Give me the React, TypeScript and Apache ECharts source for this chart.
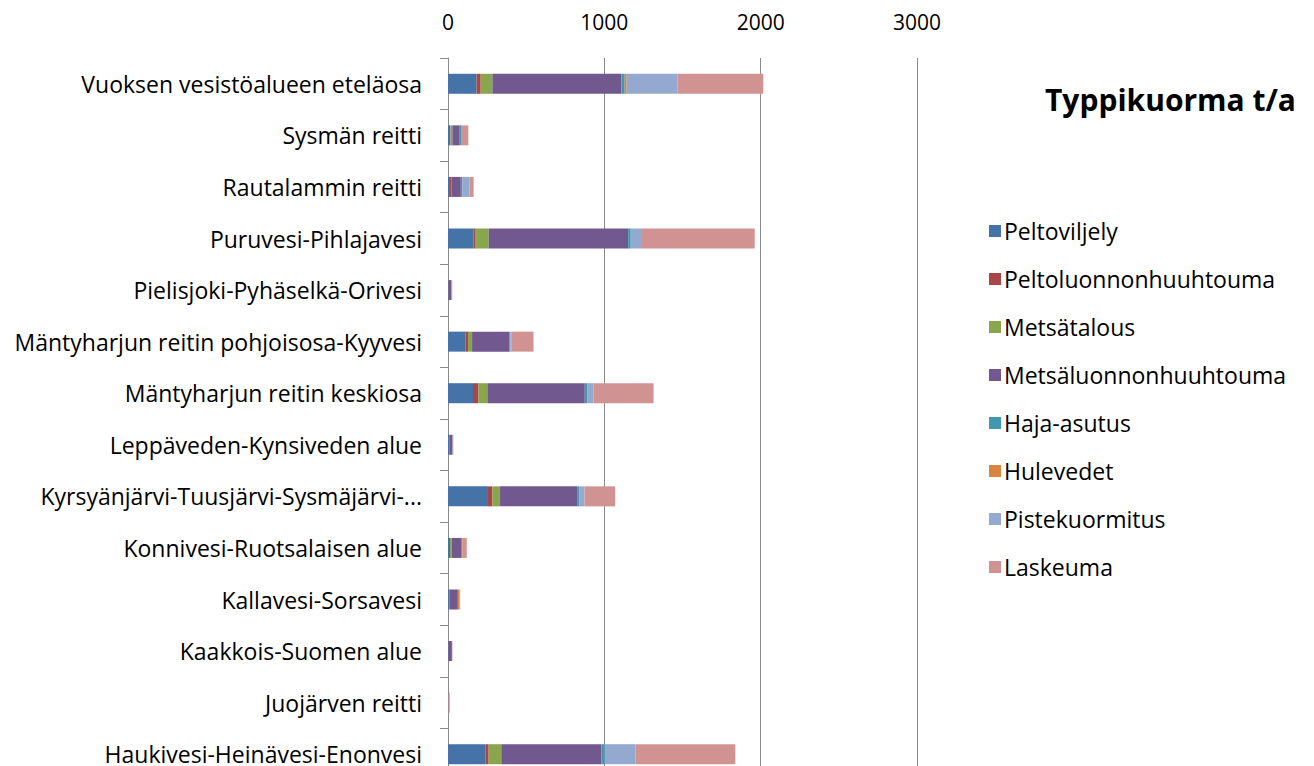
import React, { useEffect, useRef } from "react";
import * as echarts from "echarts";

// Nitrogen load by catchment area (t/a), stacked by source
const categories = [
  "Vuoksen vesistöalueen eteläosa",
  "Sysmän reitti",
  "Rautalammin reitti",
  "Puruvesi-Pihlajavesi",
  "Pielisjoki-Pyhäselkä-Orivesi",
  "Mäntyharjun reitin pohjoisosa-Kyyvesi",
  "Mäntyharjun reitin keskiosa",
  "Leppäveden-Kynsiveden alue",
  "Kyrsyänjärvi-Tuusjärvi-Sysmäjärvi-...",
  "Konnivesi-Ruotsalaisen alue",
  "Kallavesi-Sorsavesi",
  "Kaakkois-Suomen alue",
  "Juojärven reitti",
  "Haukivesi-Heinävesi-Enonvesi",
];

const seriesNames = [
  "Peltoviljely",
  "Peltoluonnonhuuhtouma",
  "Metsätalous",
  "Metsäluonnonhuuhtouma",
  "Haja-asutus",
  "Hulevedet",
  "Pistekuormitus",
  "Laskeuma",
];

const peltoviljely = [183, 15, 13, 164, 2, 111, 160, 8, 250, 13, 6, 3, 0, 241];
const peltoluonnonhuuhtouma = [26, 2, 9, 13, 0, 17, 34, 0, 34, 0, 4, 0, 0, 19];
const metsatalous = [75, 11, 0, 83, 1, 26, 58, 0, 49, 11, 0, 0, 0, 81];
const metsaluonnonhuuhtouma = [825, 47, 60, 892, 19, 239, 623, 21, 493, 64, 53, 22, 3, 640];
const hajaAsutus = [21, 8, 9, 17, 0, 6, 15, 0, 15, 0, 0, 0, 0, 21];
const hulevedet = [13, 0, 0, 0, 0, 0, 0, 0, 0, 6, 9, 0, 0, 0];
const pistekuormitus = [326, 0, 47, 72, 0, 9, 41, 2, 32, 0, 0, 0, 0, 198];
const laskeuma = [548, 47, 26, 721, 5, 139, 384, 3, 196, 26, 6, 3, 8, 638];

const seriesValues = [
  peltoviljely,
  peltoluonnonhuuhtouma,
  metsatalous,
  metsaluonnonhuuhtouma,
  hajaAsutus,
  hulevedet,
  pistekuormitus,
  laskeuma,
];

const colors = [
  "#4572A7",
  "#AA4643",
  "#89A54E",
  "#71588F",
  "#4198AF",
  "#DB843D",
  "#93A9CF",
  "#D19392",
];

const FONT = "'Open Sans', Lato, sans-serif";

export default function App() {
  const ref = useRef<HTMLDivElement>(null);

  useEffect(() => {
    if (!ref.current) return;
    const chart = echarts.init(ref.current, null, { renderer: "svg" });
    chart.setOption({
      animation: false,
      backgroundColor: "#ffffff",
      color: colors,
      title: {
        text: "Typpikuorma t/a",
        left: 1040,
        top: 79,
        textStyle: {
          fontFamily: FONT,
          fontSize: 30,
          fontWeight: "bold",
          color: "#000",
        },
      },
      legend: {
        orient: "vertical",
        left: 984,
        top: 214,
        icon: "rect",
        itemWidth: 12,
        itemHeight: 12,
        itemGap: 24,
        data: seriesNames,
        textStyle: {
          fontFamily: FONT,
          fontSize: 23,
          lineHeight: 24,
          color: "#000",
          padding: [0, 0, 0, -2],
        },
      },
      grid: {
        left: 448,
        top: 58,
        width: 469,
        height: 722,
        containLabel: false,
      },
      xAxis: {
        type: "value",
        position: "top",
        min: 0,
        max: 3000,
        interval: 1000,
        axisLine: { show: false },
        axisTick: { show: false },
        axisLabel: {
          fontFamily: FONT,
          fontSize: 21,
          color: "#000",
          margin: 26,
          formatter: (v: number) => String(v),
        },
        splitLine: { show: true, lineStyle: { color: "#8a8a8a", width: 1 } },
      },
      yAxis: {
        type: "category",
        inverse: true,
        data: categories,
        axisLine: { show: true, lineStyle: { color: "#8a8a8a", width: 1 } },
        axisTick: { show: true, length: 8, lineStyle: { color: "#8a8a8a" } },
        axisLabel: {
          fontFamily: FONT,
          fontSize: 23,
          color: "#000",
          margin: 26,
        },
      },
      series: seriesNames.map((name, i) => ({
        name,
        type: "bar",
        stack: "total",
        barWidth: 20,
        data: seriesValues[i],
        itemStyle: { color: colors[i] },
      })),
    });
    return () => chart.dispose();
  }, []);

  // The plot runs past the bottom edge of the visible area, so the chart
  // canvas is taller than its clipping frame.
  return (
    <div
      style={{
        position: "absolute",
        left: 0,
        top: 0,
        width: 1314,
        height: 766,
        overflow: "hidden",
      }}
    >
      <div ref={ref} style={{ width: 1314, height: 782 }} />
    </div>
  );
}
